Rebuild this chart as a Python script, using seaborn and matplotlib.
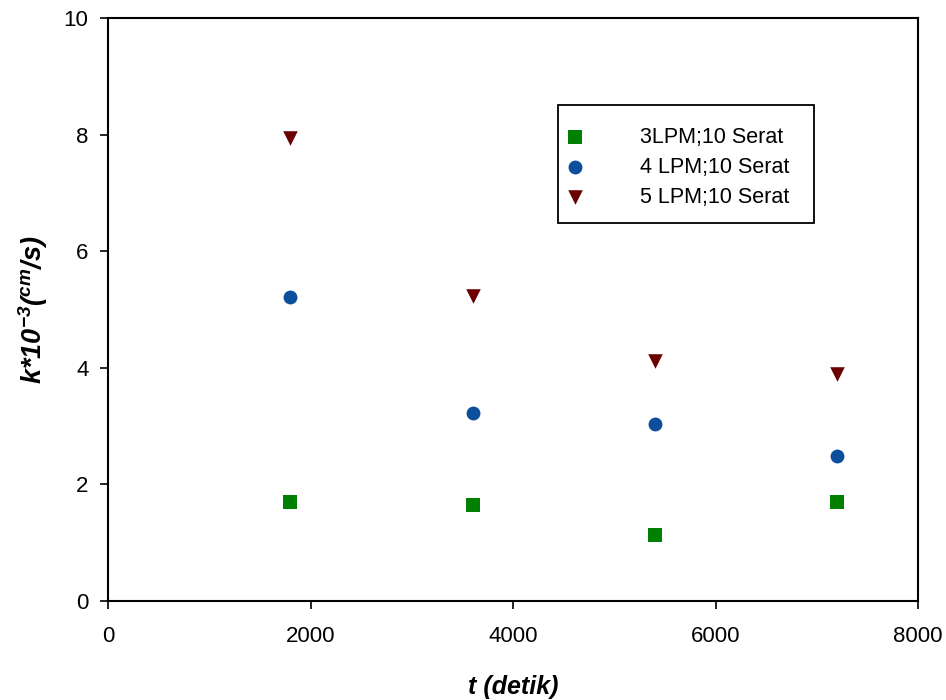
import matplotlib
matplotlib.use("Agg")
import matplotlib.pyplot as plt
from matplotlib.patches import Rectangle
import seaborn as sns
import pandas as pd

# Measurement times (seconds) and mass-transfer coefficient k (x10^-3 cm/s)
t_detik = [1800, 3600, 5400, 7200]
k_3lpm = [1.69, 1.65, 1.13, 1.69]
k_4lpm = [5.21, 3.22, 3.03, 2.49]
k_5lpm = [7.94, 5.24, 4.12, 3.89]
series_names = ["3LPM;10 Serat", "4 LPM;10 Serat", "5 LPM;10 Serat"]

x_ticks = [0, 2000, 4000, 6000, 8000]
y_ticks = [0, 2, 4, 6, 8, 10]

df = pd.DataFrame({
    "t": t_detik * 3,
    "k": k_3lpm + k_4lpm + k_5lpm,
    "seri": [series_names[0]] * 4 + [series_names[1]] * 4 + [series_names[2]] * 4,
})

sns.set_style("white")
plt.rcParams["font.family"] = ["Liberation Sans", "DejaVu Sans"]
plt.rcParams["text.color"] = "black"
plt.rcParams["axes.labelcolor"] = "black"
plt.rcParams["xtick.color"] = "black"
plt.rcParams["ytick.color"] = "black"
plt.rcParams["mathtext.fontset"] = "custom"
plt.rcParams["mathtext.rm"] = "Liberation Sans:bold:italic"
plt.rcParams["mathtext.it"] = "Liberation Sans:bold:italic"
plt.rcParams["mathtext.bf"] = "Liberation Sans:bold:italic"

fig = plt.figure(figsize=(9.46, 7.0), dpi=100)
ax = fig.add_axes([0.1142, 0.1414, 0.8562, 0.8329])

palette = {series_names[0]: "#008000", series_names[1]: "#0b4f9c", series_names[2]: "#6b0000"}
markers = {series_names[0]: "s", series_names[1]: "o", series_names[2]: "v"}
sizes_map = {series_names[0]: 90, series_names[1]: 100, series_names[2]: 110}

for name in series_names:
    sub = df[df["seri"] == name]
    sns.scatterplot(data=sub, x="t", y="k", ax=ax, color=palette[name],
                    marker=markers[name], s=sizes_map[name], linewidth=0,
                    label=name)

ax.set_xlim(0, 8000)
ax.set_ylim(0, 10)
ax.set_xticks(x_ticks)
ax.set_yticks(y_ticks)
ax.tick_params(direction="out", length=6, width=1.2, color="black",
               labelsize=16, bottom=True, left=True, pad=12)
ax.tick_params(axis="y", pad=8)
for sp in ax.spines.values():
    sp.set_color("black")
    sp.set_linewidth(1.5)

ax.set_xlabel("t (detik)", fontsize=18, fontweight="bold", style="italic", labelpad=20)
ax.set_ylabel(r"k*10$^{-3}$($^{cm}$/s)", fontsize=19.5, fontweight="bold",
              style="italic", labelpad=10)

# legend entries without frame, plus a square-cornered box around them
handles, labels = ax.get_legend_handles_labels()
leg = ax.legend(handles, labels, loc="upper left", bbox_to_anchor=(0.563, 0.813),
                fontsize=15.5, frameon=False, borderpad=0, borderaxespad=0,
                labelspacing=0.42, handletextpad=2.55, handlelength=1.0)
ax.add_patch(Rectangle((0.5556, 0.6484), 0.316, 0.2024, transform=ax.transAxes,
                       fill=False, edgecolor="black", linewidth=1.3, zorder=5))

fig.savefig("out.png", dpi=100, facecolor="white")
